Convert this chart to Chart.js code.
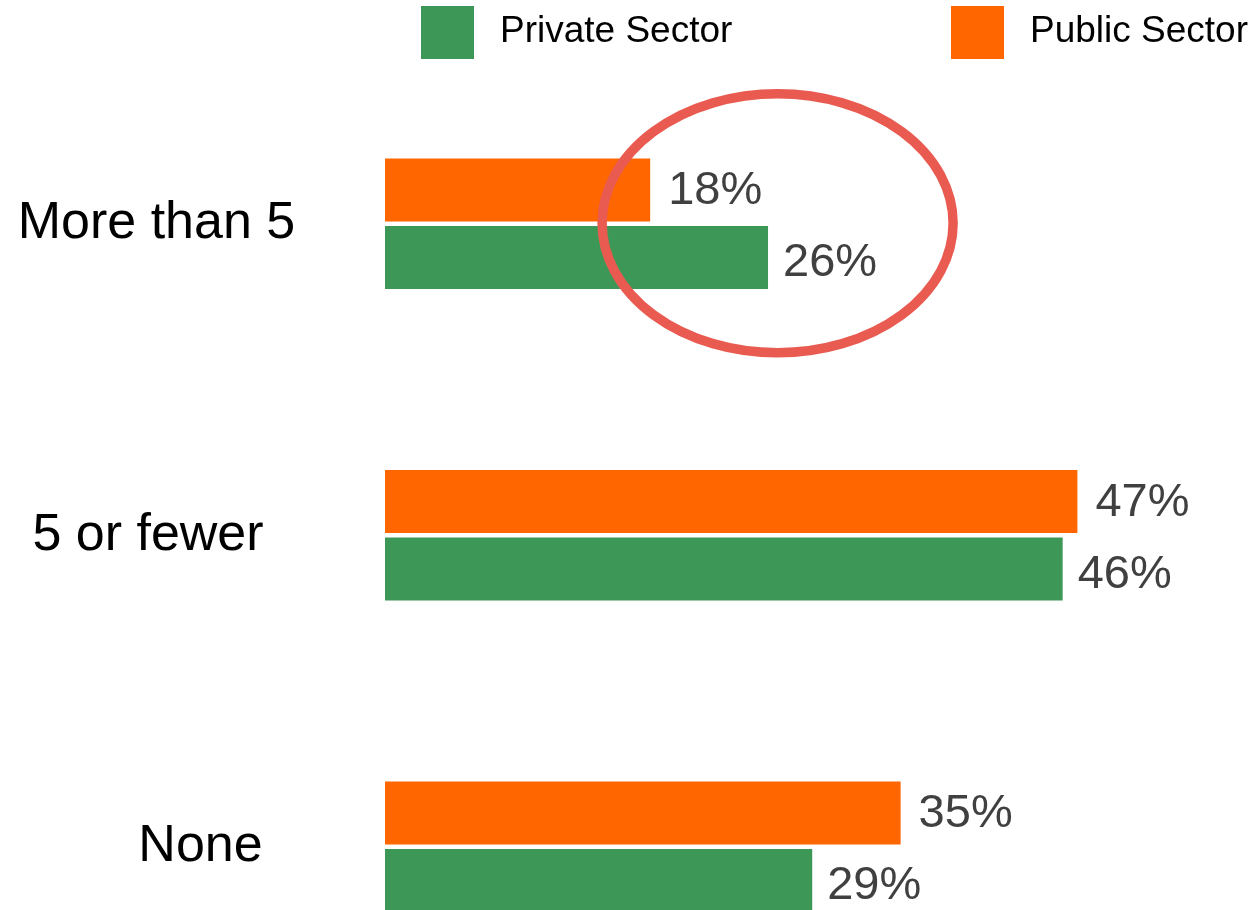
<!DOCTYPE html>
<html>
<head>
<meta charset="utf-8">
<script src="https://cdn.jsdelivr.net/npm/chart.js@4/dist/chart.umd.min.js"></script>
<style>
  html, body { margin: 0; padding: 0; background: #ffffff; overflow: hidden; }
  #wrap { width: 1250px; height: 910px; overflow: hidden; position: relative; }
  #box { width: 1250px; height: 1010px; position: absolute; left: 0; top: 0; }
</style>
</head>
<body>
<div id="wrap"><div id="box"><canvas id="c"></canvas></div></div>
<script>
// ---- data ----
const categories = ['More than 5', '5 or fewer', 'None'];
const publicSector = [18, 47, 35];
const privateSector = [26, 46, 29];
const seriesNames = ['Public Sector', 'Private Sector'];
const legendOrder = ['Private Sector', 'Public Sector'];
const xMin = 0;
const xMax = 50;
const highlightValue = 26.65;      // centre of the highlight ring (value on x axis)
const highlightCategory = 0;       // category the ring is drawn around

// ---- styles ----
const GREEN = '#3d9857';
const ORANGE = '#ff6600';
const FONT = '"Liberation Sans", Arial, Helvetica, sans-serif';

// per-series label placement (dataset order: public, private)
const labelGap = [18, 15];
const labelDy = [1.5, 6];
// horizontal centres for the category labels
const catLabelCenters = [156.5, 148, 200.5];

const valueLabels = {
  id: 'valueLabels',
  afterDatasetsDraw(chart) {
    const ctx = chart.ctx;
    ctx.save();
    ctx.font = '47px ' + FONT;
    ctx.fillStyle = '#404040';
    ctx.textAlign = 'left';
    ctx.textBaseline = 'middle';
    chart.data.datasets.forEach((ds, di) => {
      const meta = chart.getDatasetMeta(di);
      meta.data.forEach((el, i) => {
        ctx.fillText(ds.data[i] + '%', el.x + labelGap[di], el.y + labelDy[di]);
      });
    });
    ctx.restore();
  }
};

const ring = {
  id: 'ring',
  afterDraw(chart) {
    const ctx = chart.ctx;
    const cx = chart.scales.x.getPixelForValue(highlightValue);
    const cy = chart.scales.y.getPixelForValue(highlightCategory) - 0.5;
    ctx.save();
    ctx.beginPath();
    ctx.ellipse(cx, cy, 175.5, 129.5, 0, 0, Math.PI * 2);
    ctx.lineWidth = 9.5;
    ctx.strokeStyle = '#e95b51';
    ctx.stroke();
    ctx.restore();
  }
};

const topLegend = {
  id: 'topLegend',
  afterDraw(chart) {
    const ctx = chart.ctx;
    const boxX = [421, 951];
    ctx.save();
    ctx.font = '37px ' + FONT;
    ctx.textAlign = 'left';
    ctx.textBaseline = 'middle';
    legendOrder.forEach((name, k) => {
      const ds = chart.data.datasets.find(d => d.label === name);
      ctx.fillStyle = ds.backgroundColor;
      ctx.fillRect(boxX[k], 6, 53, 53);
      ctx.fillStyle = '#000000';
      ctx.fillText(ds.label, boxX[k] + 79, 31.5);
    });
    ctx.restore();
  }
};

const shiftCatLabels = {
  id: 'shiftCatLabels',
  beforeDraw(chart) {
    const items = chart.scales.y.getLabelItems();
    items.forEach((it, i) => {
      if (catLabelCenters[i] !== undefined) {
        it.options.translation[0] = catLabelCenters[i];
        it.options.textAlign = 'center';
      }
    });
  }
};

new Chart(document.getElementById('c'), {
  type: 'bar',
  data: {
    labels: categories,
    datasets: [
      { label: seriesNames[0], data: publicSector, backgroundColor: ORANGE, borderWidth: 0 },
      { label: seriesNames[1], data: privateSector, backgroundColor: GREEN, borderWidth: 0 }
    ]
  },
  options: {
    indexAxis: 'y',
    responsive: true,
    maintainAspectRatio: false,
    animation: false,
    devicePixelRatio: 1,
    categoryPercentage: 0.4334,
    barPercentage: 0.933,
    layout: { padding: { top: 68, bottom: 7.5, left: 0, right: 128.4 } },
    plugins: {
      legend: { display: false },
      tooltip: { enabled: false }
    },
    scales: {
      x: {
        display: false,
        min: xMin,
        max: xMax
      },
      y: {
        grid: { display: false },
        border: { display: false },
        ticks: {
          crossAlign: 'center',
          color: '#000000',
          font: { family: FONT, size: 52 },
          padding: 0
        },
        afterFit(scale) {
          scale.width = 385;
          scale.paddingTop = 0;
          scale.paddingBottom = 0;
        }
      }
    }
  },
  plugins: [valueLabels, ring, topLegend, shiftCatLabels]
});
</script>
</body>
</html>
